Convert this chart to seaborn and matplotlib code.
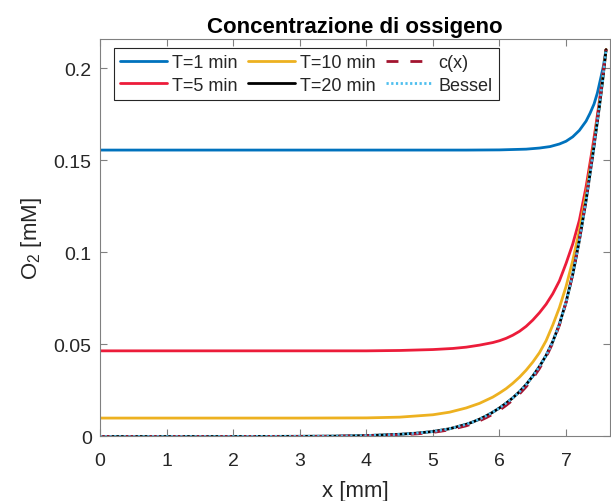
import numpy as np
import pandas as pd
import matplotlib
matplotlib.use("Agg")
import matplotlib.pyplot as plt
import seaborn as sns

# Oxygen concentration profiles along the radius (x in mm, c in mM)
x_t1 = [0, 1, 2, 3, 4, 5, 5.5, 6, 6.4, 6.6, 6.76, 6.9, 7.0, 7.1, 7.2, 7.3, 7.36, 7.42, 7.47, 7.52, 7.56, 7.6]
c_t1 = [0.1555, 0.1555, 0.1555, 0.1555, 0.1555, 0.1555, 0.1555, 0.1556, 0.1560, 0.1566, 0.1574,
        0.1588, 0.1603, 0.1627, 0.1662, 0.1712, 0.1755, 0.1805, 0.1865, 0.1945, 0.2010, 0.2100]

x_t5 = [0, 1, 2, 3, 4, 4.5, 5, 5.3, 5.5, 5.7, 5.9, 6.0, 6.1, 6.2, 6.3, 6.4, 6.5, 6.6, 6.7, 6.8,
        6.9, 7.0, 7.1, 7.2, 7.3, 7.4, 7.45, 7.5, 7.55, 7.6]
c_t5 = [0.0465, 0.0465, 0.0465, 0.0465, 0.0465, 0.0467, 0.0472, 0.0478, 0.0485, 0.0496, 0.0510,
        0.0520, 0.0533, 0.0550, 0.0571, 0.0598, 0.0632, 0.0672, 0.0718, 0.0775, 0.0845, 0.0940,
        0.1045, 0.1175, 0.1355, 0.1575, 0.1695, 0.1820, 0.1955, 0.2100]

x_t10 = [0, 1, 2, 3, 4, 4.5, 5, 5.25, 5.5, 5.7, 5.9, 6.0, 6.1, 6.2, 6.3, 6.4, 6.5, 6.6, 6.7, 6.8,
         6.9, 7.0, 7.1, 7.2, 7.3, 7.4, 7.5, 7.55, 7.6]
c_t10 = [0.0100, 0.0100, 0.0100, 0.0100, 0.0101, 0.0105, 0.0118, 0.0132, 0.0155, 0.0180, 0.0214,
         0.0236, 0.0260, 0.0289, 0.0322, 0.0360, 0.0404, 0.0455, 0.0520, 0.0605, 0.0700, 0.0815,
         0.0955, 0.1120, 0.1315, 0.1545, 0.1800, 0.1945, 0.2100]

x_ss = [0, 1, 2, 3, 3.5, 4, 4.5, 4.75, 5, 5.25, 5.5, 5.6, 5.7, 5.8, 5.9, 6.0, 6.1, 6.2, 6.3, 6.4,
        6.5, 6.6, 6.7, 6.8, 6.9, 7.0, 7.1, 7.2, 7.3, 7.4, 7.5, 7.55, 7.6]
c_t20 = [0.0000, 0.0000, 0.0000, 0.0001, 0.0002, 0.0005, 0.0012, 0.0018, 0.0027, 0.0042, 0.0066,
         0.0079, 0.0094, 0.0112, 0.0132, 0.0155, 0.0181, 0.0210, 0.0243, 0.0282, 0.0328, 0.0380,
         0.0440, 0.0515, 0.0610, 0.0730, 0.0880, 0.1065, 0.1280, 0.1525, 0.1790, 0.1935, 0.2100]
c_ode = [0.0000, 0.0000, 0.0000, 0.0000, 0.0001, 0.0004, 0.0009, 0.0014, 0.0022, 0.0036, 0.0058,
         0.0070, 0.0085, 0.0102, 0.0121, 0.0143, 0.0169, 0.0198, 0.0231, 0.0270, 0.0316, 0.0369,
         0.0431, 0.0508, 0.0605, 0.0728, 0.0882, 0.1072, 0.1292, 0.1540, 0.1805, 0.1948, 0.2100]
c_bessel = [0.0000, 0.0000, 0.0000, 0.0001, 0.0002, 0.0005, 0.0012, 0.0018, 0.0027, 0.0042, 0.0066,
            0.0079, 0.0094, 0.0112, 0.0132, 0.0155, 0.0181, 0.0210, 0.0243, 0.0282, 0.0328, 0.0380,
            0.0440, 0.0515, 0.0610, 0.0730, 0.0880, 0.1065, 0.1280, 0.1525, 0.1790, 0.1935, 0.2100]

labels = ["T=1 min", "T=5 min", "T=10 min", "T=20 min", "c(x)", "Bessel"]
x_ticks = [0, 1, 2, 3, 4, 5, 6, 7]
y_ticks = [0, 0.05, 0.1, 0.15, 0.2]
y_tick_labels = ["0", "0.05", "0.1", "0.15", "0.2"]

sns.set_style("white")
plt.rcParams["font.family"] = ["Liberation Sans", "DejaVu Sans"]
plt.rcParams["mathtext.fontset"] = "custom"
plt.rcParams["mathtext.rm"] = "Liberation Sans"

fig = plt.figure(figsize=(6.11, 5.02), dpi=100)
ax = fig.add_axes([0.1637, 0.1285, 0.8347, 0.7918])

series = [
    (x_t1, c_t1, labels[0], "#0072BD", "-"),
    (x_t5, c_t5, labels[1], "#EC1C3A", "-"),
    (x_t10, c_t10, labels[2], "#EDB120", "-"),
    (x_ss, c_t20, labels[3], "#000000", "-"),
    (x_ss, c_ode, labels[4], "#A2142F", (0, (4.3, 4.3))),
    (x_ss, c_bessel, labels[5], "#4DBEEE", (0, (0.8, 0.9))),
]
for xs, ys, lab, col, ls in series:
    df = pd.DataFrame({"x": xs, "c": ys})
    sns.lineplot(data=df, x="x", y="c", ax=ax, color=col, linewidth=2.0,
                 linestyle=ls, label=lab, sort=False, estimator=None)

ax.set_xlim(0, 7.66)
ax.set_ylim(0, 0.2158)
ax.set_xticks(x_ticks)
ax.set_xticklabels([str(t) for t in x_ticks])
ax.set_yticks(y_ticks)
ax.set_yticklabels(y_tick_labels)

grey = "#262626"
for sp in ax.spines.values():
    sp.set_visible(True)
    sp.set_color("#808080")
    sp.set_linewidth(0.8)
ax.tick_params(axis="both", which="both", direction="in", length=5, width=0.8,
               color="#808080", labelsize=14, labelcolor=grey,
               top=True, right=True, bottom=True, left=True)
ax.tick_params(axis="x", pad=11)
ax.tick_params(axis="y", pad=6)

ax.set_xlabel("x [mm]", fontsize=16, color=grey, labelpad=8)
ax.set_ylabel(r"O$_2$ [mM]", fontsize=16, color=grey, labelpad=7)
ax.set_title("Concentrazione di ossigeno", fontsize=16, fontweight="bold", color="black", pad=5)

leg = ax.legend(loc="upper left", bbox_to_anchor=(0.027, 0.977), borderaxespad=0,
                ncol=3, fontsize=13, handlelength=2.6, handletextpad=0.3,
                columnspacing=0.55, labelspacing=0.28, borderpad=0.35,
                frameon=True, fancybox=False)
leg.get_frame().set_edgecolor("#262626")
leg.get_frame().set_linewidth(0.8)
leg.get_frame().set_alpha(1)

fig.savefig("out.png", dpi=100)
